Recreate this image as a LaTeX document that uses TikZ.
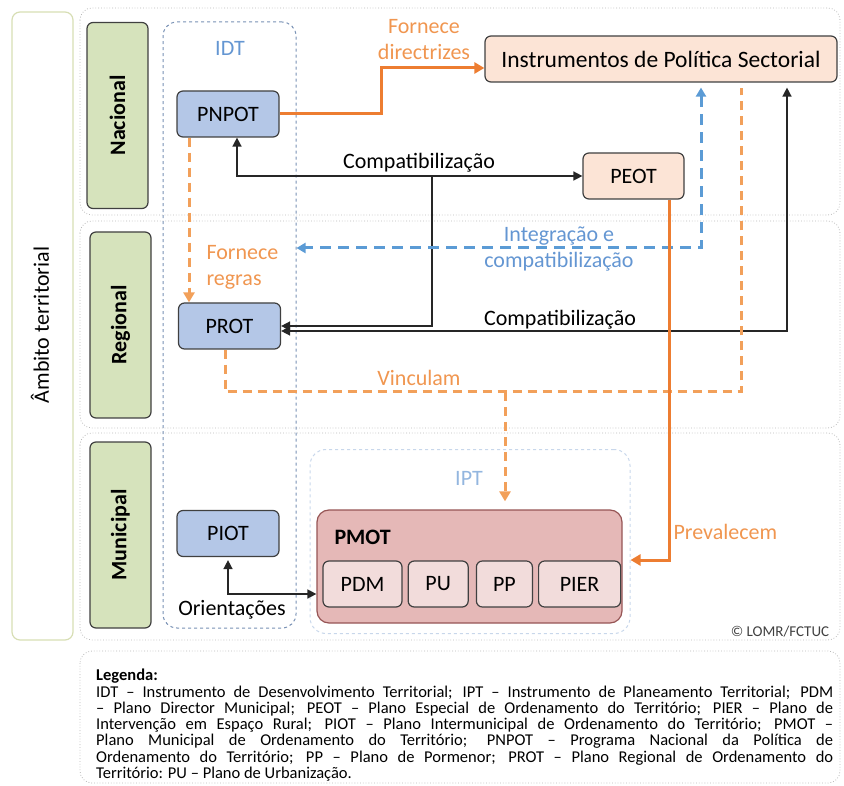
\documentclass[tikz,border=0pt]{standalone}
\usepackage{fontspec}
\setmainfont{Carlito}
\usetikzlibrary{arrows.meta, positioning}

\definecolor{boxline}{RGB}{64,64,64}
\definecolor{boxblue}{RGB}{180,199,231}
\definecolor{boxpeach}{RGB}{252,228,214}
\definecolor{pmotfill}{RGB}{229,184,183}
\definecolor{pmotline}{RGB}{150,85,85}
\definecolor{subpink}{RGB}{242,220,219}
\definecolor{lvlgreen}{RGB}{214,227,188}
\definecolor{ambline}{RGB}{215,222,180}
\definecolor{bandgray}{RGB}{185,185,185}
\definecolor{lineorange}{RGB}{237,125,49}
\definecolor{dashorange}{RGB}{242,160,90}
\definecolor{labelorange}{RGB}{240,150,80}
\definecolor{dashblue}{RGB}{91,155,213}
\definecolor{labelblue}{RGB}{100,150,210}
\definecolor{idtline}{RGB}{120,145,180}
\definecolor{iptline}{RGB}{200,215,235}

\begin{document}
\begin{tikzpicture}[x=1pt, y=-1pt,
    every node/.style={font=\fontsize{22}{26}\selectfont},
    box/.style={draw=boxline, line width=1.2pt, rounded corners=6pt, minimum height=46pt},
    bluebox/.style={box, fill=boxblue, minimum width=102pt},
    peachbox/.style={box, fill=boxpeach},
    subbox/.style={box, fill=subpink},
    lvl/.style={box, fill=lvlgreen, rotate=90, minimum width=186pt, minimum height=61pt, font=\fontsize{22}{26}\selectfont\bfseries},
    band/.style={draw=bandgray, dotted, line width=0.8pt, rounded corners=12pt},
    olab/.style={text=labelorange},
    blab/.style={text=labelblue},
    bline/.style={draw=black!85, line width=1.5pt},
    oline/.style={draw=lineorange, line width=3pt},
    odash/.style={draw=dashorange, line width=3pt, dash pattern=on 9pt off 6pt},
    bdash/.style={draw=dashblue, line width=3pt, dash pattern=on 11pt off 7pt},
    btip/.style={-{Triangle[length=9pt,width=9pt]}},
    otip/.style={-{Triangle[length=10pt,width=11pt]}}
]
\useasboundingbox (0,0) rectangle (844,786);

% bands
\draw[band] (80,8) rectangle (840,215);
\draw[band] (80,221) rectangle (840,428);
\draw[band] (80,433) rectangle (840,640);
\draw[band] (80,651) rectangle (840,783);

\node[draw=ambline, line width=1.2pt, rounded corners=8pt, minimum width=61pt, minimum height=628pt] (amb) at (42.5,326) {};
\node[rotate=90] (ambt) at (40,325) {Âmbito territorial};

\node[lvl] (nac) at (117.5,115.5) {Nacional};
\node[lvl] (reg) at (120.5,325) {Regional};
\node[lvl] (mun) at (120.5,535) {Municipal};

% IDT and IPT frames
\node[draw=idtline, dashed, line width=1pt, rounded corners=14pt, minimum width=133pt, minimum height=606pt] (idt) at (229.5,325) {};
\node[blab] (idtl) at (230,48) {IDT};
\node[draw=iptline, dashed, line width=1pt, rounded corners=16pt, minimum width=320pt, minimum height=184pt] (ipt) at (470,541.5) {};
\node[text=labelblue!70] (iptl) at (469,478) {IPT};

% plans
\node[bluebox] (pnpot) at (228,114) {PNPOT};
\node[bluebox] (prot) at (229.5,326) {PROT};
\node[bluebox] (piot) at (228,533.5) {PIOT};
\node[peachbox, minimum width=352pt, font=\fontsize{23.5}{28}\selectfont] (isp) at (661,59) {Instrumentos de Política Sectorial};
\node[peachbox, minimum width=101pt] (peot) at (633.5,176) {PEOT};

\node[draw=pmotline, fill=pmotfill, line width=1.2pt, rounded corners=12pt, minimum width=305pt, minimum height=113pt] (pmot) at (469.5,566.5) {};
\node[anchor=west, font=\fontsize{22}{26}\selectfont\bfseries] (pmotl) at (331,537) {PMOT};
\node[subbox, minimum width=79pt] (pdm) at (362.5,584) {PDM};
\node[subbox, minimum width=60pt] (pu) [right=5pt of pdm] {PU};
\node[subbox, minimum width=56pt] (pp) [right=7pt of pu] {PP};
\node[subbox, minimum width=82pt] (pier) [right=5pt of pp] {PIER};

% connectors
\draw[oline, otip] (pnpot.east) -| (381,68) -- ([yshift=-9pt]isp.west);
\node[olab, align=center] (fdir) at (424,40) {Fornece\\directrizes};

\draw[odash, otip] ([xshift=-39pt]pnpot.south) -- ([xshift=-40.5pt]prot.north);
\node[olab, align=left, anchor=west] (freg) at (203,267) {Fornece\\regras};

\coordinate (j1) at (432,176);
\draw[bline, {Triangle[length=9pt,width=9pt]}-{Triangle[length=9pt,width=9pt]}] ([xshift=9pt]pnpot.south) |- (peot.west);
\draw[bline, btip] (j1) |- (prot.east);
\node (comp1) at (419,163) {Compatibilização};

\draw[bline, {Triangle[length=9pt,width=9pt]}-{Triangle[length=9pt,width=9pt]}, shorten <=5pt] ([xshift=126pt]isp.south) |- ([yshift=-5pt]prot.east);
\node (comp2) at (560,320) {Compatibilização};

\draw[bdash, {Triangle[length=9pt,width=10pt]}-{Triangle[length=9pt,width=10pt]}, shorten <=5pt] ([xshift=40pt]isp.south) |- ([yshift=77pt]idt.east);
\node[blab, align=center] (integ) at (559,249) {Integração e\\compatibilização};

\coordinate (vb) at (505,392);
\draw[odash, shorten >=5pt] ([xshift=-4.5pt]prot.south) |- (741,392) -- ([xshift=80pt]isp.south);
\draw[odash, otip, shorten >=8pt] (vb) -- ([xshift=35.5pt]pmot.north);
\node[olab] (vinc) at (419,378) {Vinculam};

\draw[oline, otip] ([xshift=35.5pt]peot.south) |- ([yshift=-18.5pt]ipt.east);
\node[olab, anchor=west] (prev) at (670,532) {Prevalecem};

\draw[bline, {Triangle[length=9pt,width=9pt]}-{Triangle[length=9pt,width=9pt]}, shorten <=3pt] (piot.south) |- ([yshift=-27.5pt]pmot.west);
\node (orient) at (232,610) {Orientações};

\node[text=black!75, font=\fontsize{15}{18}\selectfont] (copy) at (780,632) {© LOMR/FCTUC};

% legend
\node[anchor=north west, text width=737pt, align=justify, inner sep=0pt, font=\fontsize{16.5}{16.3}\selectfont] (leg) at (96,669) {\textbf{Legenda:}\\ IDT – Instrumento de Desenvolvimento Territorial; IPT – Instrumento de Planeamento Territorial; PDM\linebreak – Plano Director Municipal; PEOT – Plano Especial de Ordenamento do Território; PIER – Plano de\linebreak Intervenção em Espaço Rural; PIOT – Plano Intermunicipal de Ordenamento do Território; PMOT –\linebreak Plano Municipal de Ordenamento do Território; PNPOT – Programa Nacional da Política de\linebreak Ordenamento do Território; PP – Plano de Pormenor; PROT – Plano Regional de Ordenamento do\linebreak Território: PU – Plano de Urbanização.};
\end{tikzpicture}
\end{document}
